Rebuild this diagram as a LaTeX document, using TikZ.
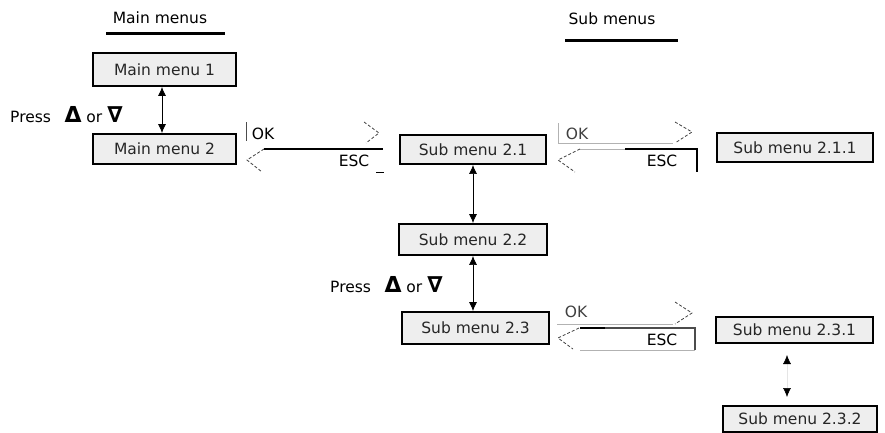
\documentclass[tikz,border=0pt]{standalone}
\usepackage{fontspec}
\setmainfont{DejaVu Sans}
\usetikzlibrary{arrows.meta}
\newcommand{\tri}[1]{{\fontsize{22}{22}\selectfont\bfseries #1}}
\begin{document}
\begin{tikzpicture}[x=1pt,y=-1pt,
  menubox/.style={draw=black,line width=1.9pt,fill=gray!13,inner sep=0pt,
    font=\fontsize{15.5}{18}\selectfont,text=black!85},
  dbl/.style={line width=0.7pt,{Latex[length=9pt,width=8pt]}-{Latex[length=9pt,width=8pt]}},
  solidedge/.style={line width=1.4pt,black},
  lightedge/.style={line width=1pt,gray!60},
  chev/.style={line width=0.8pt,black!75,densely dashed,line join=miter},
  lbl/.style={font=\fontsize{15.5}{18}\selectfont,inner sep=0pt},
  title/.style={font=\fontsize{15.5}{18}\selectfont,inner sep=0pt}
]
\useasboundingbox (0,0) rectangle (885,433);

% titles
\node[title] (tmain) at (160,18) {Main menus};
\draw[line width=3pt] (106,34) -- (225,34);
\node[title] (tsub) at (612,19) {Sub menus};
\draw[line width=3pt] (565,41) -- (678,41);

% boxes
\node[menubox,minimum width=143pt,minimum height=33pt] (mm1) at (164.5,69.5) {Main menu 1};
\node[menubox,minimum width=143pt,minimum height=30pt] (mm2) at (164.5,149) {Main menu 2};
\node[menubox,minimum width=146pt,minimum height=29pt] (s21) at (473,149.5) {Sub menu 2.1};
\node[menubox,minimum width=156pt,minimum height=29pt] (s211) at (795,147.5) {Sub menu 2.1.1};
\node[menubox,minimum width=148pt,minimum height=31pt] (s22) at (473,239.5) {Sub menu 2.2};
\node[menubox,minimum width=147pt,minimum height=32pt] (s23) at (475.5,328) {Sub menu 2.3};
\node[menubox,minimum width=157pt,minimum height=26pt] (s231) at (794.5,330) {Sub menu 2.3.1};
\node[menubox,minimum width=154pt,minimum height=26pt] (s232) at (800,419) {Sub menu 2.3.2};

% press labels
\node[lbl,anchor=west] (p1) at (10,115) {Press\;\; \tri{Δ} or \tri{∇}};
\node[lbl,anchor=west] (p2) at (330,285) {Press\;\; \tri{Δ} or \tri{∇}};

% vertical double arrows
\draw[dbl] ([xshift=-2.5pt]mm1.south) -- ([xshift=-2.5pt]mm2.north);
\draw[dbl] (s21.south) -- (s22.north);
\draw[dbl] (s22.south) -- ([xshift=-2.5pt]s23.north);
\coordinate (a231) at (787,355);
\coordinate (a232) at (787,397);
\draw[line width=0.5pt,gray!20,{Latex[length=9pt,width=8pt,color=black]}-{Latex[length=9pt,width=8pt,color=black]}] (a231) -- (a232);

% pair 1: Main menu 2 <-> Sub menu 2.1
\draw[lightedge,black!70] (246,122) -- (246,141);
\node[lbl] (ok1) at (263,134) {OK};
\draw[solidedge] (264,149) -- (383,149);
\draw[chev] (364,122) -- (379,133) -- (366,143);
\draw[chev] (264,149) -- (247,160) -- (262,172);
\node[lbl] (esc1) at (354,161) {ESC};
\draw[line width=1pt] (376,172) -- (384,172);

% pair 2: Sub menu 2.1 <-> Sub menu 2.1.1
\draw[lightedge] (558,123) -- (558,143) -- (673,143);
\draw[chev] (675,122) -- (692,132) -- (675,143);
\node[lbl,text=black!75] (ok2) at (577,134) {OK};
\draw[lightedge] (580,149) -- (625,149);
\draw[solidedge] (625,149) -- (697,149) -- (697,172);
\draw[chev] (580,149) -- (558,160) -- (575,172);
\node[lbl] (esc2) at (662,161) {ESC};

% pair 3: Sub menu 2.3 <-> Sub menu 2.3.1
\node[lbl,text=black!75] (ok3) at (576,312) {OK};
\draw[lightedge] (557,324) -- (673,324);
\draw[chev] (675,302) -- (692,313) -- (675,324);
\draw[solidedge] (580,328) -- (605,328);
\draw[line width=1.2pt,black!70] (605,328) -- (695,328) -- (695,350);
\draw[lightedge] (580,350) -- (695,350);
\draw[chev] (579,328) -- (558,338) -- (573,349);
\node[lbl] (esc3) at (662,340) {ESC};
\end{tikzpicture}
\end{document}
